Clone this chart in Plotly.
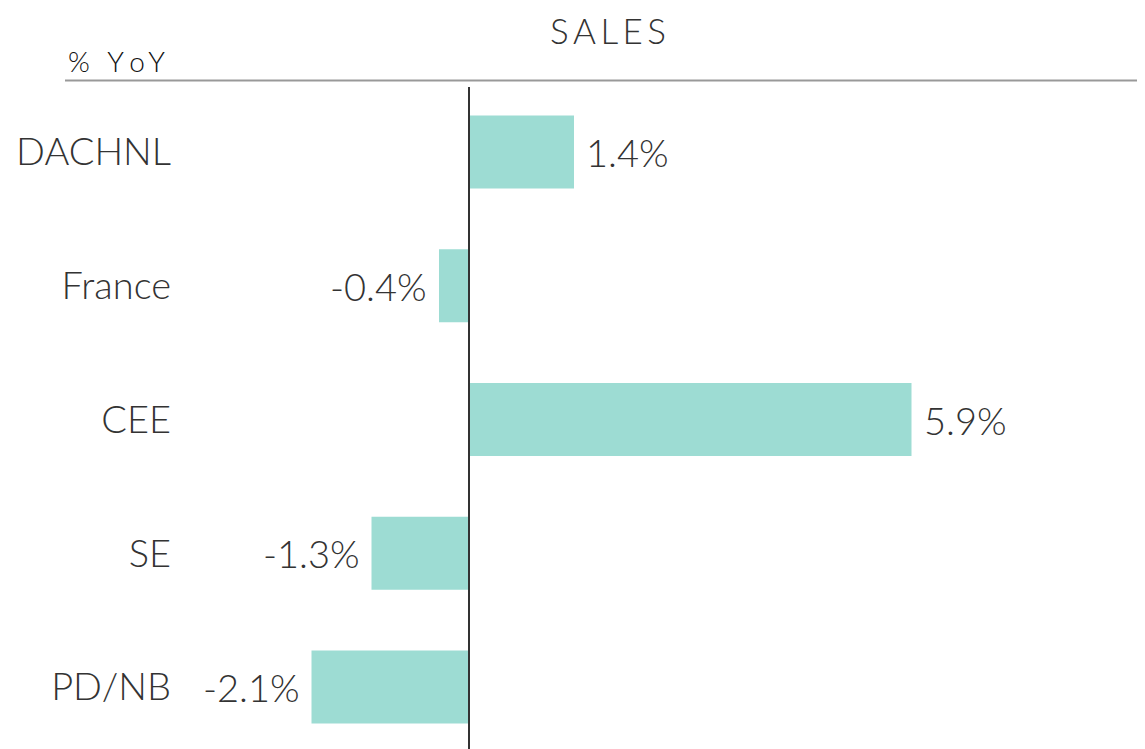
import plotly.graph_objects as go

categories = ["DACHNL", "France", "CEE", "SE", "PD/NB"]
values = [1.4, -0.4, 5.9, -1.3, -2.1]
labels = ["1.4%", "-0.4%", "5.9%", "-1.3%", "-2.1%"]

OFF = 8  # page body margin
W, H = 1145 - OFF, 749 - OFF
ML, MR, MT, MB = 180 - OFF, 0, 85 - OFF, 0
PW, PH = W - ML - MR, H - MT - MB

def px_x(x):
    return (x - OFF - ML) / PW

def px_y(y):
    return (H - MB - (y - OFF)) / PH

FONT = "Lato"
TXT = "#333333"
BAR = "#9DDCD3"

fig = go.Figure(go.Bar(
    x=values, y=categories, orientation="h",
    marker=dict(color=BAR, line=dict(width=0)),
    width=0.546, hoverinfo="skip",
))

for v, c, t in zip(values, categories, labels):
    fig.add_annotation(
        x=v, y=c, xref="x", yref="y", text=t, showarrow=False,
        xanchor="left" if v >= 0 else "right", yanchor="middle",
        xshift=10 if v >= 0 else -10,
        font=dict(family=FONT, size=38, color=TXT, weight=300),
    )

fig.add_annotation(x=px_x(608), y=px_y(30), xref="paper", yref="paper",
                   text="\u2009".join("SALES"), showarrow=False,
                   xanchor="center", yanchor="middle",
                   font=dict(family=FONT, size=35, color=TXT, weight=300))
fig.add_annotation(x=px_x(66), y=px_y(61), xref="paper", yref="paper",
                   text="%\u2002\u2009Y\u2009\u200ao\u2009Y", showarrow=False,
                   xanchor="left", yanchor="middle",
                   font=dict(family=FONT, size=28, color="#111111", weight=300))

fig.add_shape(type="line", xref="paper", yref="paper",
              x0=px_x(65), x1=px_x(1160), y0=px_y(80.5), y1=px_y(80.5),
              line=dict(color="#999999", width=2))
fig.add_shape(type="line", xref="x", yref="paper", x0=0, x1=0,
              y0=0, y1=px_y(87), line=dict(color="#333333", width=2))

scale = 75.0
zero_x = 469 - OFF
fig.update_layout(
    width=W, height=H,
    margin=dict(l=ML, r=MR, t=MT, b=MB, pad=0),
    paper_bgcolor="white", plot_bgcolor="white",
    showlegend=False,
    xaxis=dict(range=[(ML - zero_x) / scale, (W - MR - zero_x) / scale],
               visible=False, showgrid=False, zeroline=False, fixedrange=True),
    yaxis=dict(range=[(749 - 152) / 133.75, -(152 - 85) / 133.75],
               showgrid=False, zeroline=False, showline=False, ticks="",
               ticklabelstandoff=8,
               tickfont=dict(family=FONT, size=38, color=TXT, weight=300),
               fixedrange=True),
)

fig.write_html("out.html", config={"displayModeBar": False})
